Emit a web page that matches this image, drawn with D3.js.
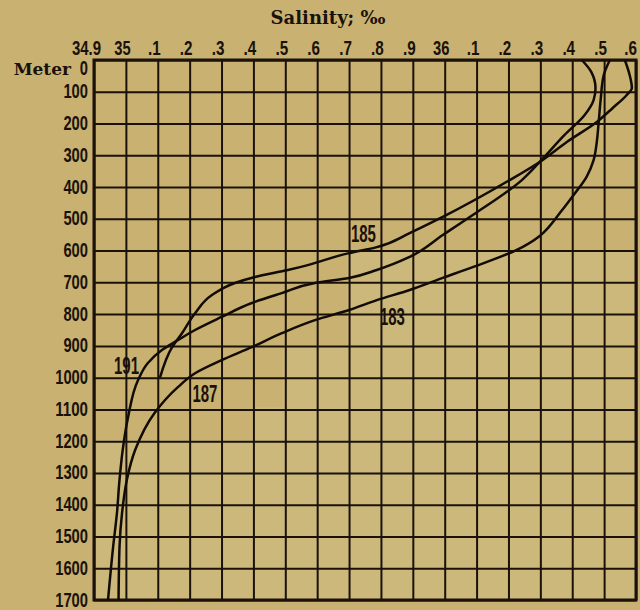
<!DOCTYPE html>
<html>
<head>
<meta charset="utf-8">
<script src="https://cdn.jsdelivr.net/npm/d3@7"></script>
<style>
  html, body { margin: 0; padding: 0; background: #c9b171; }
  svg { display: block; }
  .tick text { font-family: "Liberation Sans", Arial, sans-serif; font-weight: bold; fill: #1a120a; }
</style>
</head>
<body>
<div id="chart"></div>
<script>
// salinity ticks along the top
const salTicks = [34.9, 35.0, 35.1, 35.2, 35.3, 35.4, 35.5, 35.6, 35.7, 35.8, 35.9, 36.0, 36.1, 36.2, 36.3, 36.4, 36.5, 36.6];
const salLabels = ["34.9", "35", ".1", ".2", ".3", ".4", ".5", ".6", ".7", ".8", ".9", "36", ".1", ".2", ".3", ".4", ".5", ".6"];
const depthTicks = [0, 100, 200, 300, 400, 500, 600, 700, 800, 900, 1000, 1100, 1200, 1300, 1400, 1500, 1600, 1700];

// station curves, salinity read at depth
const depth185 = [0, 47, 88, 110, 151, 195, 258, 321, 378, 494, 545, 589, 608, 652, 661, 683, 702, 740, 797, 860, 904, 1000];
const sal185 = [36.565, 36.58, 36.587, 36.571, 36.527, 36.477, 36.383, 36.298, 36.204, 35.994, 35.89, 35.787, 35.70, 35.546, 35.508, 35.405, 35.342, 35.27, 35.217, 35.176, 35.145, 35.107];

const depth191 = [0, 38, 88, 126, 173, 236, 321, 378, 488, 551, 620, 661, 686, 702, 734, 765, 809, 850, 882, 913, 954, 1008, 1124, 1228, 1322, 1426, 1533, 1700];
const sal191 = [36.43, 36.46, 36.473, 36.467, 36.439, 36.376, 36.298, 36.242, 36.088, 35.994, 35.89, 35.787, 35.70, 35.593, 35.489, 35.395, 35.30, 35.217, 35.163, 35.113, 35.069, 35.038, 35.007, 34.99, 34.98, 34.972, 34.96, 34.944];

const depth187 = [0, 47, 126, 195, 258, 315, 368, 428, 482, 523, 554, 598, 652, 686, 724, 756, 787, 819, 860, 904, 945, 986, 1030, 1111, 1228, 1322, 1426, 1533, 1700];
const sal187 = [36.518, 36.499, 36.489, 36.483, 36.477, 36.467, 36.445, 36.402, 36.361, 36.329, 36.298, 36.226, 36.088, 35.994, 35.89, 35.787, 35.70, 35.593, 35.489, 35.395, 35.30, 35.217, 35.163, 35.09, 35.029, 35.003, 34.988, 34.98, 34.977];

const labelNames = ["185", "183", "191", "187"];
const labelSal = [35.745, 35.836, 35.002, 35.248];
const labelDepth = [573, 834, 989, 1077];

// lighter patch of the paper, lower right (salinity, depth steps)
const patchSal = [34.9, 35.395, 35.492, 35.693];
const patchDepth = [1196, 1093, 897, 598];

const width = 640, height = 610;
const margin = { top: 60, left: 94 };
const w = 636 - margin.left;
const h = 600 - margin.top;
const ink = "#1a120a";

const svg = d3.select("#chart").append("svg")
  .attr("width", width)
  .attr("height", height);

const x = d3.scaleLinear().domain([34.9, 36.6]).range([0, w]);
const y = d3.scaleLinear().domain([0, 1700]).range([0, h]);

const g = svg.append("g").attr("transform", `translate(${margin.left},${margin.top})`);

// paper patch
let pts = [];
patchSal.forEach((s, i) => {
  const next = i < patchSal.length - 1 ? patchSal[i + 1] : 36.6;
  pts.push([x(s), y(patchDepth[i])]);
  pts.push([x(next), y(patchDepth[i])]);
});
pts.push([x(36.6), y(1700)], [x(34.9), y(1700)]);
g.append("path")
  .attr("d", "M" + pts.join("L") + "Z")
  .attr("fill", "#cdb87c");

// condensed width for the bold digits
function narrow(str, digit) {
  let len = 0;
  for (const c of str) len += c === "." ? digit * 0.55 : digit;
  return len;
}

const xAxis = g.append("g")
  .call(d3.axisTop(x).tickValues(salTicks).tickSize(-h).tickPadding(5)
    .tickFormat((d, i) => salLabels[i]));
xAxis.select(".domain").remove();
xAxis.selectAll("line").attr("stroke", ink).attr("stroke-width", 2);
xAxis.selectAll("text")
  .attr("font-size", 20)
  .attr("dx", (d, i) => i === 0 ? -8 : (i === salTicks.length - 1 ? -6 : -4))
  .attr("textLength", (d, i) => narrow(salLabels[i], 8.2))
  .attr("lengthAdjust", "spacingAndGlyphs");

const yAxis = g.append("g")
  .call(d3.axisLeft(y).tickValues(depthTicks).tickSize(-w).tickPadding(6)
    .tickFormat(d3.format("d")));
yAxis.select(".domain").remove();
yAxis.selectAll("line").attr("stroke", ink).attr("stroke-width", 2);
yAxis.selectAll("text")
  .attr("font-size", 20)
  .attr("dy", d => d === 0 ? "0.7em" : "0.3em")
  .attr("textLength", d => narrow(String(d), 8.2))
  .attr("lengthAdjust", "spacingAndGlyphs");

// frame
g.append("rect")
  .attr("x", 0).attr("y", 0).attr("width", w).attr("height", h)
  .attr("fill", "none").attr("stroke", ink).attr("stroke-width", 3);

svg.append("text")
  .attr("x", 71).attr("y", margin.top + 15)
  .attr("text-anchor", "end")
  .attr("font-family", "'DejaVu Serif', serif").attr("font-weight", "bold")
  .attr("font-size", 17).attr("fill", ink)
  .text("Meter");

svg.append("text")
  .attr("x", 328).attr("y", 24)
  .attr("text-anchor", "middle")
  .attr("font-family", "'DejaVu Serif', serif").attr("font-weight", "bold")
  .attr("font-size", 18).attr("fill", ink)
  .text("Salinity; ‰");

const line = d3.line()
  .x(d => x(d[0]))
  .y(d => y(d[1]))
  .curve(d3.curveMonotoneY);

const series = [
  d3.zip(sal185, depth185),
  d3.zip(sal191, depth191),
  d3.zip(sal187, depth187)
];

g.selectAll(".station")
  .data(series)
  .enter().append("path")
  .attr("class", "station")
  .attr("fill", "none")
  .attr("stroke", "#120c06")
  .attr("stroke-width", 2.5)
  .attr("d", line);

g.selectAll(".lbl")
  .data(labelNames)
  .enter().append("text")
  .attr("class", "lbl")
  .attr("x", (d, i) => x(labelSal[i]))
  .attr("y", (d, i) => y(labelDepth[i]))
  .attr("text-anchor", "middle")
  .attr("font-family", "'Liberation Sans', Arial, sans-serif")
  .attr("font-weight", "bold")
  .attr("font-size", 23)
  .attr("fill", ink)
  .attr("textLength", 25)
  .attr("lengthAdjust", "spacingAndGlyphs")
  .text(d => d);
</script>
</body>
</html>
